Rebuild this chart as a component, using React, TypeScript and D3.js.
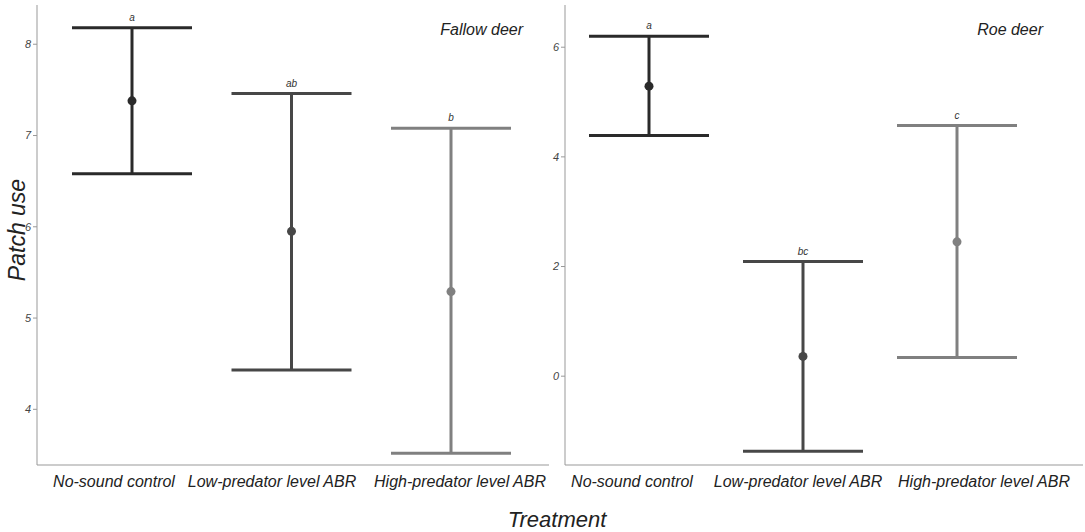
import React from 'react';
import * as d3 from 'd3';

// treatments shared by both panels
const treatments = ['No-sound control', 'Low-predator level ABR', 'High-predator level ABR'];
const treatmentColors = ['#2a2a2a', '#474747', '#808080'];

// Fallow deer: mean and interval per treatment
const fallowMean = [7.38, 5.95, 5.29];
const fallowLower = [6.58, 4.43, 3.52];
const fallowUpper = [8.18, 7.46, 7.08];
const fallowLetters = ['a', 'ab', 'b'];
const fallowTicks = [4, 5, 6, 7, 8];

// Roe deer
const roeMean = [5.29, 0.36, 2.45];
const roeLower = [4.39, -1.37, 0.34];
const roeUpper = [6.2, 2.09, 4.57];
const roeLetters = ['a', 'bc', 'c'];
const roeTicks = [0, 2, 4, 6];

const W = 1085;
const H = 532;
const FONT = '"Liberation Sans", Arial, sans-serif';

type PanelProps = {
  x0: number;
  x1: number;
  catRange: [number, number];
  labelX: number[]; // tick labels are packed, not centred on the bars
  yDomain: [number, number];
  mean: number[];
  lower: number[];
  upper: number[];
  letters: string[];
  ticks: number[];
  title: string;
  titleX: number;
};

const TOP = 5;
const BOTTOM = 465;
const CAP = 60;

function Panel(p: PanelProps) {
  const x = d3.scalePoint<string>().domain(treatments).range(p.catRange);
  const y = d3.scaleLinear().domain(p.yDomain).range([BOTTOM, TOP]);

  return (
    <g>
      {/* axes */}
      <line x1={p.x0} x2={p.x0} y1={TOP} y2={BOTTOM} stroke="#999" strokeWidth={1} />
      <line x1={p.x0} x2={p.x1} y1={BOTTOM} y2={BOTTOM} stroke="#999" strokeWidth={1} />
      {p.ticks.map(t => (
        <g key={t}>
          <line x1={p.x0 - 4} x2={p.x0} y1={y(t)} y2={y(t)} stroke="#999" />
          <text x={p.x0 - 6} y={y(t)} dy="0.35em" textAnchor="end" fontSize={11}
            fontStyle="italic" fill="#444" fontFamily={FONT}>{t}</text>
        </g>
      ))}
      {treatments.map((t, i) => (
        <text key={t} x={p.labelX[i]} y={487} textAnchor="middle" fontSize={16} fontStyle="italic"
          fill="#222" fontFamily={FONT}>{t}</text>
      ))}
      <text x={p.titleX} y={35} textAnchor="end" fontSize={16} fontStyle="italic"
        fill="#222" fontFamily={FONT}>{p.title}</text>

      {/* error bars */}
      {treatments.map((t, i) => {
        const cx = x(t) as number;
        const c = treatmentColors[i];
        return (
          <g key={t}>
            <line x1={cx} x2={cx} y1={y(p.upper[i])} y2={y(p.lower[i])} stroke={c} strokeWidth={3} />
            <line x1={cx - CAP} x2={cx + CAP} y1={y(p.upper[i])} y2={y(p.upper[i])} stroke={c} strokeWidth={3} />
            <line x1={cx - CAP} x2={cx + CAP} y1={y(p.lower[i])} y2={y(p.lower[i])} stroke={c} strokeWidth={3} />
            <circle cx={cx} cy={y(p.mean[i])} r={4.5} fill={c} />
            <text x={cx} y={y(p.upper[i]) - 7} textAnchor="middle" fontSize={10} fontStyle="italic"
              fill="#333" fontFamily={FONT}>{p.letters[i]}</text>
          </g>
        );
      })}
    </g>
  );
}

export default function App() {
  return (
    <svg width={W} height={H} style={{ position: 'absolute', left: 0, top: 0, background: '#fff' }}>
      <rect width={W} height={H} fill="#fff" />
      <Panel x0={37} x1={549} catRange={[132, 451]} labelX={[114, 272, 460]} yDomain={[3.39, 8.43]}
        mean={fallowMean} lower={fallowLower} upper={fallowUpper} letters={fallowLetters}
        ticks={fallowTicks} title="Fallow deer" titleX={523} />
      <Panel x0={565} x1={1083} catRange={[649, 957]} labelX={[632, 798, 984]} yDomain={[-1.62, 6.77]}
        mean={roeMean} lower={roeLower} upper={roeUpper} letters={roeLetters}
        ticks={roeTicks} title="Roe deer" titleX={1043} />
      <text transform="translate(25,230) rotate(-90)" textAnchor="middle" fontSize={23}
        fontStyle="italic" fill="#222" fontFamily={FONT}>Patch use</text>
      <text x={557} y={527} textAnchor="middle" fontSize={22} fontStyle="italic"
        fill="#222" fontFamily={FONT}>Treatment</text>
    </svg>
  );
}
